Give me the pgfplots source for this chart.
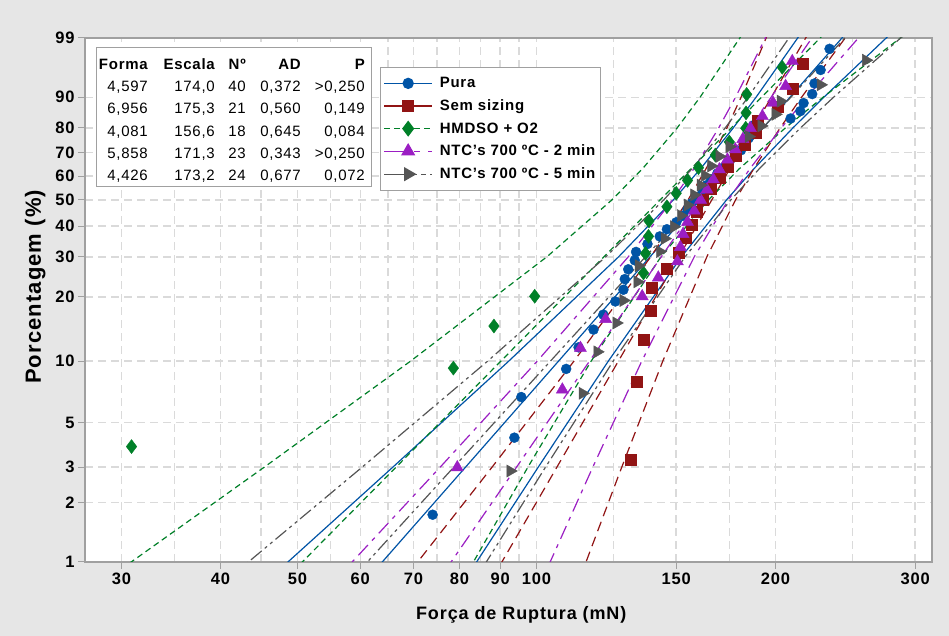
\documentclass[border=0pt]{standalone}
\usepackage{fontspec}
\setmainfont{Liberation Sans}[LetterSpace=5]
\usepackage{pgfplots}
\usepackage{pgfplotstable}
\pgfplotsset{compat=1.18}

\definecolor{cpura}{RGB}{0,84,166}
\definecolor{csem}{RGB}{145,20,20}
\definecolor{chmd}{RGB}{0,128,40}
\definecolor{cntca}{RGB}{155,30,195}
\definecolor{cntcb}{RGB}{85,85,85}
\definecolor{bgray}{RGB}{230,230,230}
\definecolor{gridc}{RGB}{218,218,218}
\definecolor{framec}{RGB}{160,160,160}

% pontos: forca (mN) e rank mediano (%)
\pgfplotstableread{
x p
74.0 1.73
93.8 4.21
95.7 6.68
109.0 9.16
113.0 11.63
118.0 14.11
121.4 16.58
125.7 19.06
128.7 21.53
129.2 24.01
130.5 26.49
133.0 28.96
133.5 31.44
138.0 33.91
143.0 36.39
146.0 38.86
150.0 41.34
153.0 43.81
155.0 46.29
157.0 48.76
160.0 51.24
162.0 53.71
164.0 56.19
166.0 58.66
169.0 61.14
172.0 63.61
175.0 66.09
178.0 68.56
181.0 71.04
183.0 73.51
185.0 75.99
186.0 78.47
187.5 80.94
209.0 83.42
215.0 85.89
217.0 88.37
222.5 90.84
224.0 93.32
228.0 95.79
234.0 98.27
}\pura

\pgfplotstableread{
x p
131.3 3.27
133.6 7.94
136.4 12.62
139.2 17.29
139.5 21.96
146.1 26.64
151.0 31.31
154.0 35.98
157.0 40.65
159.0 45.33
162.0 50.00
166.0 54.67
170.0 59.35
174.0 64.02
178.0 68.69
183.0 73.36
188.7 78.04
190.0 82.71
201.6 87.38
210.5 92.06
216.3 96.73
}\sem

\pgfplotstableread{
x p
30.9 3.80
78.6 9.24
88.4 14.67
99.5 20.11
136.4 25.54
137.2 30.98
138.4 36.41
138.6 41.85
146.0 47.28
150.0 52.72
155.0 58.15
160.0 63.59
168.0 69.02
175.0 74.46
183.5 79.89
183.7 85.33
184.0 90.76
204.0 96.20
}\hmd

\pgfplotstableread{
x p
79.5 2.99
107.8 7.26
113.6 11.54
122.2 15.81
135.9 20.09
142.4 24.36
150.5 28.63
151.8 32.91
153.0 37.18
155.0 41.45
158.0 45.73
161.0 50.00
164.0 54.27
167.0 58.55
170.0 62.82
174.0 67.09
178.0 71.37
182.0 75.64
186.0 79.91
192.6 84.19
198.6 88.46
206.0 92.74
210.0 97.01
}\ntca

\pgfplotstableread{
x p
92.7 2.87
114.3 6.97
119.3 11.07
126.1 15.16
128.7 19.26
134.0 23.36
134.5 27.46
143.0 31.56
145.0 35.66
149.0 39.75
152.0 43.85
155.0 47.95
158.0 52.05
161.0 56.15
163.0 60.25
166.0 64.34
170.0 68.44
175.0 72.54
185.0 76.64
192.0 80.74
200.0 84.84
203.0 88.93
228.0 93.03
260.0 97.13
}\ntcb

% reta ajustada e limites de confianca 95%
\pgfplotstableread{
p lo fit hi
0.5 40.18 54.98 75.23
1 48.66 63.97 84.09
3 65.95 81.42 100.53
10 92.31 106.64 123.20
30 126.93 139.05 152.33
50 148.73 160.66 173.55
63.21 161.03 174.00 188.02
80 176.99 192.98 210.42
90 189.08 208.61 230.16
99 213.34 242.56 275.79
99.9 228.36 264.93 307.35
}\puraci

\pgfplotstableread{
p lo fit hi
0.5 61.89 81.87 108.30
1 70.89 90.48 115.48
3 87.93 106.12 128.08
10 111.53 126.85 144.28
30 139.34 151.15 163.96
50 155.24 166.30 178.15
63.21 163.59 175.30 187.84
80 173.77 187.71 202.77
90 181.04 197.63 215.75
99 194.71 218.34 244.84
99.9 202.73 231.45 264.24
}\semci

\pgfplotstableread{
p lo fit hi
0.5 24.22 42.78 75.55
1 30.89 50.73 83.31
3 45.42 66.57 97.56
10 69.44 90.22 117.21
30 103.10 121.64 143.52
50 124.45 143.15 164.66
63.21 136.08 156.60 180.22
80 150.42 175.97 205.86
90 160.74 192.11 229.61
99 180.38 227.67 287.35
99.9 192.09 251.46 329.18
}\hmdci

\pgfplotstableread{
p lo fit hi
0.5 49.92 69.37 96.40
1 58.62 78.11 104.08
3 75.66 94.39 117.76
10 100.26 116.66 135.74
30 130.55 143.66 158.09
50 148.39 160.91 174.48
63.21 157.93 171.30 185.81
80 169.67 185.80 203.46
90 178.15 197.51 218.98
99 194.30 222.32 254.39
99.9 203.87 238.25 278.43
}\ntcaci

\pgfplotstableread{
p lo fit hi
0.5 35.25 52.35 77.75
1 43.39 61.26 86.50
3 60.33 78.70 102.67
10 86.83 104.17 124.97
30 122.30 137.21 153.94
50 144.65 159.44 175.74
63.21 157.08 173.20 190.98
80 172.92 192.86 215.10
90 184.73 209.12 236.73
99 208.01 244.57 287.56
99.9 222.24 268.03 323.25
}\ntcbci

\newcommand{\W}{ln(-ln(1-\thisrow{p}/100))}

\begin{document}
\begin{tikzpicture}
\fill[bgray] (0pt,0pt) rectangle (949pt,636pt);

\begin{axis}[
  at={(85pt,74pt)}, anchor=south west,
  width=847pt, height=524pt, scale only axis,
  xmode=log, xmin=27, xmax=315,
  ymin=-4.6002, ymax=1.5272,
  xtick={30,40,50,60,70,80,90,100,150,200,300},
  xticklabels={30,40,50,60,70,80,90,100,150,200,300},
  minor xtick={35,45,55,65,75,85,95,125,175,250},
  ytick={-4.6002,-3.9019,-3.4913,-2.9702,-2.2504,-1.4999,-1.0309,-0.6717,-0.3665,-0.0874,0.1856,0.4759,0.8340,1.5272},
  yticklabels={1,2,3,5,10,20,30,40,50,60,70,80,90,99},
  grid=both,
  major grid style={gridc, dash pattern=on 8pt off 5pt, line width=1.5pt},
  minor grid style={gridc, dash pattern=on 8pt off 5pt, line width=1.5pt},
  tick align=outside, tick pos=left,
  major tick length=7pt, minor tick length=0pt,
  every tick/.style={framec, line width=1pt},
  axis line style={framec, line width=1.5pt},
  axis background/.style={fill=white},
  ticklabel style={font=\fontsize{16.5}{16.5}\selectfont\bfseries},
  xlabel={Força de Ruptura (mN)},
  ylabel={Porcentagem (\%)},
  xlabel style={font=\fontsize{18}{18}\selectfont\bfseries, at={(axis description cs:0.515,0)}, anchor=base, yshift=-58pt},
  ylabel style={font=\fontsize{22}{22}\selectfont\bfseries, at={(axis description cs:-0.052,0.525)}, anchor=base},
  legend style={at={(0.3483,0.9447)}, anchor=north west, draw=framec,
    line width=1pt, fill=white, inner xsep=3pt, inner ysep=8pt, row sep=6.5pt,
    column sep=5pt,
    font=\fontsize{15}{15}\selectfont\bfseries, cells={anchor=west}},
  legend image code/.code={\draw[mark repeat=2,mark phase=2,#1]
    plot coordinates {(0pt,0pt) (24pt,0pt) (48pt,0pt)};},
]
\addlegendimage{cpura, line width=1.3pt, mark=*, mark size=5pt}
\addlegendentry{Pura}
\addlegendimage{csem, line width=1.3pt, mark=square*, mark size=5.5pt}
\addlegendentry{Sem sizing}
\addlegendimage{chmd, line width=1.3pt, dash pattern=on 6pt off 4pt, mark=diamond*, mark size=7pt, mark options={solid}}
\addlegendentry{HMDSO + O2}
\addlegendimage{cntca, line width=1.3pt, dash pattern=on 22pt off 8pt on 6pt off 8pt, mark=triangle*, mark size=7pt, mark options={solid}}
\addlegendentry{NTC's 700 ºC - 2 min}
\addlegendimage{cntcb, line width=1.3pt, dash pattern=on 22pt off 6pt on 5pt off 4pt on 5pt off 4pt, mark=triangle*, mark size=7pt, mark options={solid, rotate=-90}}
\addlegendentry{NTC's 700 ºC - 5 min}

% Pura
\addplot[cpura, line width=1.2pt, forget plot] table[x=lo, y expr=\W] {\puraci};
\addplot[cpura, line width=1.2pt, forget plot] table[x=fit, y expr=\W] {\puraci};
\addplot[cpura, line width=1.2pt, forget plot] table[x=hi, y expr=\W] {\puraci};
% Sem sizing
\addplot[csem, line width=1.2pt, dash pattern=on 10pt off 6pt, forget plot] table[x=lo, y expr=\W] {\semci};
\addplot[csem, line width=1.2pt, dash pattern=on 10pt off 6pt, forget plot] table[x=fit, y expr=\W] {\semci};
\addplot[csem, line width=1.2pt, dash pattern=on 10pt off 6pt, forget plot] table[x=hi, y expr=\W] {\semci};
% HMDSO + O2
\addplot[chmd, line width=1.2pt, dash pattern=on 6pt off 4pt, forget plot] table[x=lo, y expr=\W] {\hmdci};
\addplot[chmd, line width=1.2pt, dash pattern=on 6pt off 4pt, forget plot] table[x=fit, y expr=\W] {\hmdci};
\addplot[chmd, line width=1.2pt, dash pattern=on 6pt off 4pt, forget plot] table[x=hi, y expr=\W] {\hmdci};
% NTC 2 min
\addplot[cntca, line width=1.2pt, dash pattern=on 14pt off 6pt on 4pt off 6pt, forget plot] table[x=lo, y expr=\W] {\ntcaci};
\addplot[cntca, line width=1.2pt, dash pattern=on 14pt off 6pt on 4pt off 6pt, forget plot] table[x=fit, y expr=\W] {\ntcaci};
\addplot[cntca, line width=1.2pt, dash pattern=on 14pt off 6pt on 4pt off 6pt, forget plot] table[x=hi, y expr=\W] {\ntcaci};
% NTC 5 min
\addplot[cntcb, line width=1.2pt, dash pattern=on 14pt off 4pt on 3pt off 4pt on 3pt off 4pt, forget plot] table[x=lo, y expr=\W] {\ntcbci};
\addplot[cntcb, line width=1.2pt, dash pattern=on 14pt off 4pt on 3pt off 4pt on 3pt off 4pt, forget plot] table[x=fit, y expr=\W] {\ntcbci};
\addplot[cntcb, line width=1.2pt, dash pattern=on 14pt off 4pt on 3pt off 4pt on 3pt off 4pt, forget plot] table[x=hi, y expr=\W] {\ntcbci};

% pontos
\addplot[only marks, mark=*, mark size=5pt, cpura, forget plot] table[x=x, y expr=\W] {\pura};
\addplot[only marks, mark=square*, mark size=5.5pt, csem, forget plot] table[x=x, y expr=\W] {\sem};
\addplot[only marks, mark=diamond*, mark size=7pt, chmd, forget plot] table[x=x, y expr=\W] {\hmd};
\addplot[only marks, mark=triangle*, mark size=7pt, cntca, forget plot] table[x=x, y expr=\W] {\ntca};
\addplot[only marks, mark=triangle*, mark size=7pt, mark options={rotate=-90}, cntcb, forget plot] table[x=x, y expr=\W] {\ntcb};
\end{axis}

% tabela de parametros
\draw[framec, line width=1pt, fill=white] (96pt,588pt) rectangle (371pt,449pt);
\begin{scope}[every node/.style={anchor=base east, inner sep=0pt, font=\fontsize{15}{15}\selectfont}]
\node[font=\fontsize{15}{15}\selectfont\bfseries] at (148pt,566pt) {Forma};
\node[font=\fontsize{15}{15}\selectfont\bfseries] at (215pt,566pt) {Escala};
\node[font=\fontsize{15}{15}\selectfont\bfseries] at (246pt,566pt) {Nº};
\node[font=\fontsize{15}{15}\selectfont\bfseries] at (301pt,566pt) {AD};
\node[font=\fontsize{15}{15}\selectfont\bfseries] at (365pt,566pt) {P};
\node at (148pt,544pt) {4,597}; \node at (215pt,544pt) {174,0}; \node at (246pt,544pt) {40}; \node at (301pt,544pt) {0,372}; \node at (365pt,544pt) {>0,250};
\node at (148pt,522pt) {6,956}; \node at (215pt,522pt) {175,3}; \node at (246pt,522pt) {21}; \node at (301pt,522pt) {0,560}; \node at (365pt,522pt) {0,149};
\node at (148pt,499pt) {4,081}; \node at (215pt,499pt) {156,6}; \node at (246pt,499pt) {18}; \node at (301pt,499pt) {0,645}; \node at (365pt,499pt) {0,084};
\node at (148pt,477pt) {5,858}; \node at (215pt,477pt) {171,3}; \node at (246pt,477pt) {23}; \node at (301pt,477pt) {0,343}; \node at (365pt,477pt) {>0,250};
\node at (148pt,455pt) {4,426}; \node at (215pt,455pt) {173,2}; \node at (246pt,455pt) {24}; \node at (301pt,455pt) {0,677}; \node at (365pt,455pt) {0,072};
\end{scope}
\end{tikzpicture}
\end{document}
